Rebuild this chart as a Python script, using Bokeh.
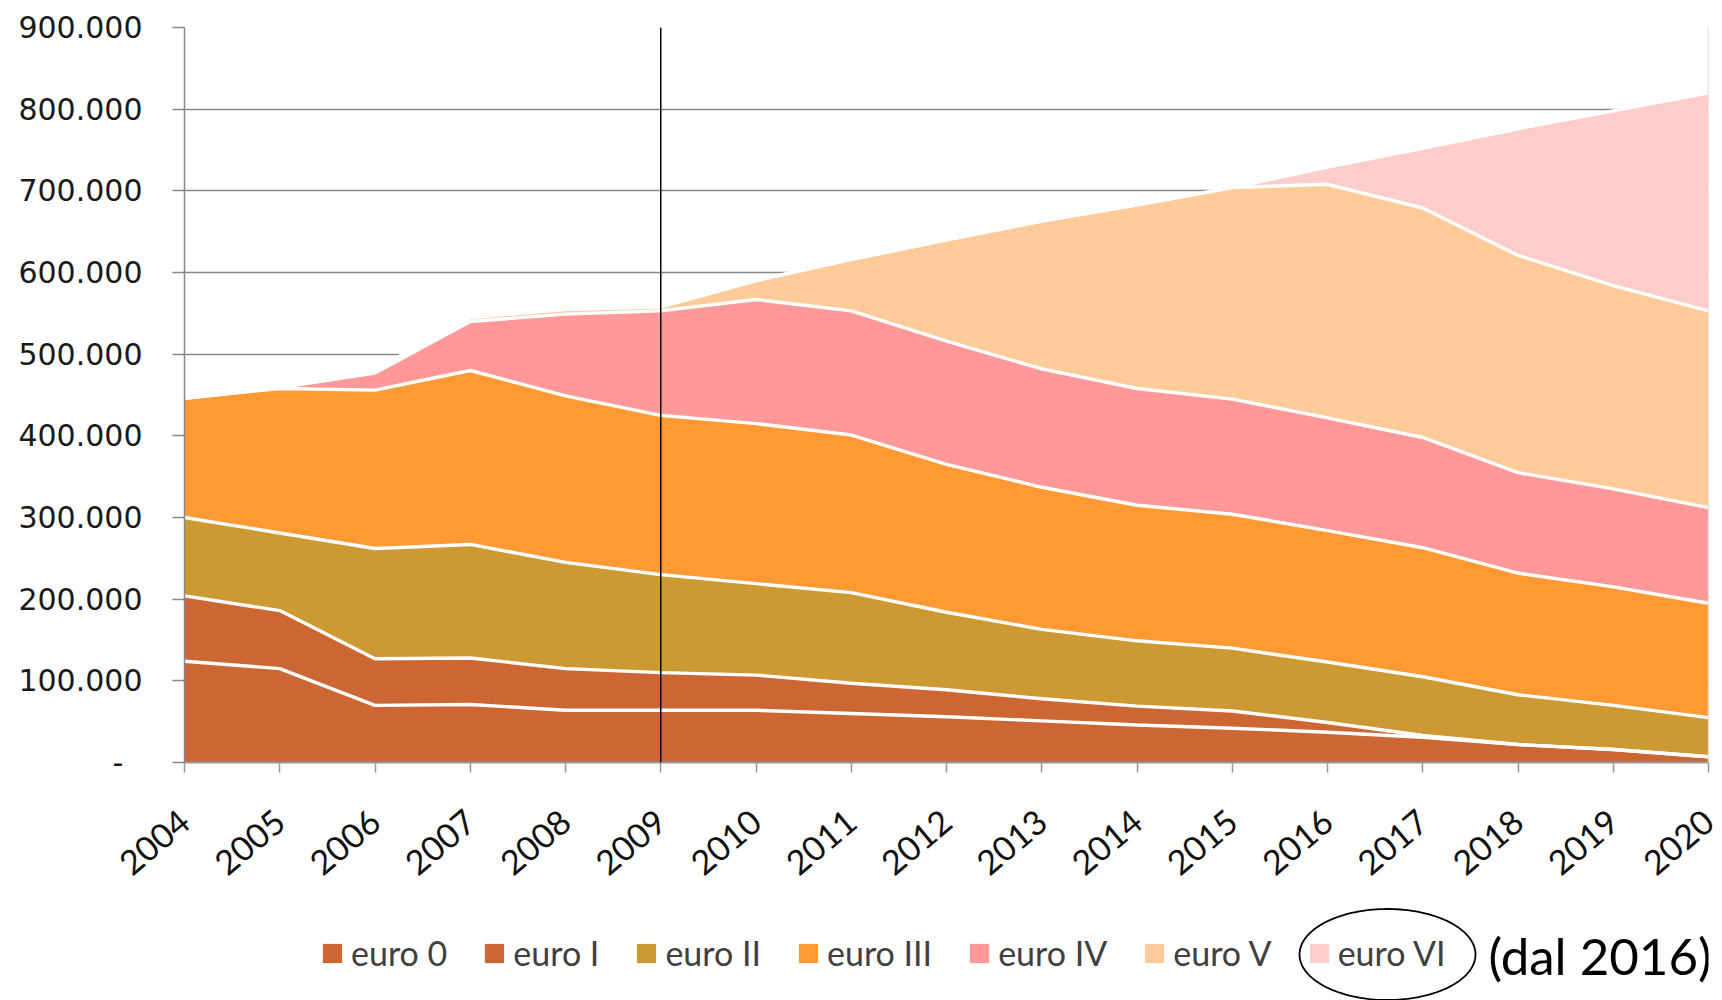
import numpy as np
from bokeh.plotting import figure
from bokeh.layouts import column
from bokeh.models import (Range1d, FixedTicker, Span, Legend, LegendItem, Label,
                          PolyAnnotation, ColumnDataSource)
from bokeh.embed import file_html
from bokeh.resources import INLINE

years = list(range(2004, 2021))
series_names = ["euro 0", "euro I", "euro II", "euro III", "euro IV", "euro V", "euro VI"]
euro0 = [124, 115, 70, 71, 64, 64, 64, 60, 56, 51, 46, 42, 37, 31, 22, 16, 7]
euro1 = [80, 71, 57, 57, 51, 46, 43, 37, 33, 27, 23, 21, 12, 2, 0, 0, 0]
euro2 = [96, 95, 135, 139, 130, 120, 112, 111, 95, 85, 80, 77, 74, 72, 61, 54, 48]
euro3 = [146, 177, 194, 213, 204, 195, 196, 193, 181, 174, 166, 164, 161, 158, 149, 145, 140]
euro4 = [0, 1, 21, 60, 100, 128, 152, 152, 151, 145, 143, 141, 138, 135, 123, 120, 117]
euro5 = [3, 4, 4, 5, 6, 5, 23, 63, 124, 181, 225, 259, 286, 281, 266, 249, 241]
euro6 = [0, 0, 0, 0, 0, 0, 0, 0, 0, 0, 0, 0, 21, 73, 155, 214, 267]
unit = 1000  # values above are in thousands of vehicles
colors = ["#CC6633", "#CC6633", "#CC9933", "#FF9933", "#FF9999", "#FFCC99", "#FDCDCC"]
y_ticks = [0, 100000, 200000, 300000, 400000, 500000, 600000, 700000, 800000, 900000]
y_tick_labels = ["-\u00a0\u00a0", "100.000", "200.000", "300.000", "400.000", "500.000",
                 "600.000", "700.000", "800.000", "900.000"]
marker_year = 2009
note_text = "(dal 2016)"

all_series = [euro0, euro1, euro2, euro3, euro4, euro5, euro6]
data = {"year": years}
for name, vals in zip(series_names, all_series):
    data[name] = [v * unit for v in vals]
src = ColumnDataSource(data)

W = 1722
H1 = 905
H2 = 95
FRAME_L = 184
FRAME_R = 1708

p = figure(width=W, height=H1, output_backend="svg", toolbar_location=None,
           x_range=Range1d(2004, 2020), y_range=Range1d(0, 900000),
           min_border_left=FRAME_L, min_border_right=W - FRAME_R, min_border_top=27,
           min_border_bottom=H1 - 762)
p.outline_line_color = None
p.background_fill_color = "white"

renderers = p.varea_stack(stackers=series_names, x="year", color=colors, source=src)

# white separating lines on top of each stacked series
cum = np.zeros(len(years))
for name in series_names:
    cum = cum + np.array(data[name], dtype=float)
    p.line(x=years, y=list(cum), line_color="white", line_width=3.4)

# axes
p.xaxis.ticker = FixedTicker(ticks=years)
p.xaxis.major_label_orientation = 0.70
p.xaxis.major_label_text_font = "Lato"
p.xaxis.major_label_text_font_size = "34px"
p.xaxis.major_label_text_color = "#111111"
p.xaxis.major_label_standoff = 44
p.xaxis.axis_line_color = "#999999"
p.xaxis.axis_line_width = 2
p.xaxis.major_tick_line_color = "#999999"
p.xaxis.major_tick_line_width = 1.5
p.xaxis.major_tick_out = 10
p.xaxis.major_tick_in = 0
p.xaxis.minor_tick_line_color = None

p.yaxis.ticker = FixedTicker(ticks=y_ticks)
p.yaxis.major_label_overrides = {t: l for t, l in zip(y_ticks, y_tick_labels)}
p.yaxis.major_label_text_font = "DejaVu Sans"
p.yaxis.major_label_text_font_size = "30px"
p.yaxis.major_label_text_color = "#1a1a1a"
p.yaxis.major_label_standoff = 30
p.yaxis.axis_line_color = "#888888"
p.yaxis.axis_line_width = 1.5
p.yaxis.major_tick_line_color = "#888888"
p.yaxis.major_tick_line_width = 1.5
p.yaxis.major_tick_out = 12
p.yaxis.major_tick_in = 0
p.yaxis.minor_tick_line_color = None

p.xgrid.grid_line_color = None
p.ygrid.grid_line_color = "#888888"
p.ygrid.grid_line_width = 1.5
p.ygrid.ticker = FixedTicker(ticks=y_ticks)

p.add_layout(Span(location=marker_year, dimension="height", line_color="black", line_width=1.5))
p.add_layout(Span(location=2020, dimension="height", line_color="#d4d4d4", line_width=1.5))

# legend strip: its frame is aligned with the chart frame, x in page pixels
q = figure(width=W, height=H2, output_backend="svg", toolbar_location=None,
           x_range=Range1d(FRAME_L, FRAME_R), y_range=Range1d(0, H2),
           x_axis_location=None, y_axis_location=None,
           min_border_left=FRAME_L, min_border_right=W - FRAME_R,
           min_border_top=0, min_border_bottom=0)
q.outline_line_color = None
q.xgrid.visible = False
q.ygrid.visible = False
q.extra_y_ranges = {"hidden": Range1d(-3e6, -2e6)}

legend_renderers = q.varea_stack(stackers=series_names, x="year", color=colors,
                                 source=src, y_range_name="hidden")
items = [LegendItem(label=n, renderers=[r]) for n, r in zip(series_names, legend_renderers)]
legend = Legend(items=items, orientation="horizontal", location=(320 - FRAME_L, 27),
                glyph_width=24, glyph_height=24, label_standoff=7, spacing=35,
                padding=0, margin=0, border_line_color=None, background_fill_alpha=0,
                label_text_font="Lato", label_text_font_size="34px",
                label_text_color="#404040")
q.add_layout(legend, "center")

q.add_layout(Label(x=1488, y=45, text=note_text,
                   text_font="Lato", text_font_size="51px", text_color="black",
                   text_align="left", text_baseline="middle"))

t = np.linspace(0, 2 * np.pi, 160)
q.add_layout(PolyAnnotation(xs=list(1387 + 88 * np.cos(t)), ys=list(46 + 45.5 * np.sin(t)),
                            fill_alpha=0, line_color="black", line_alpha=1.0, line_width=1.8))

open("out.html", "w").write(file_html(column(p, q, spacing=0), INLINE))
